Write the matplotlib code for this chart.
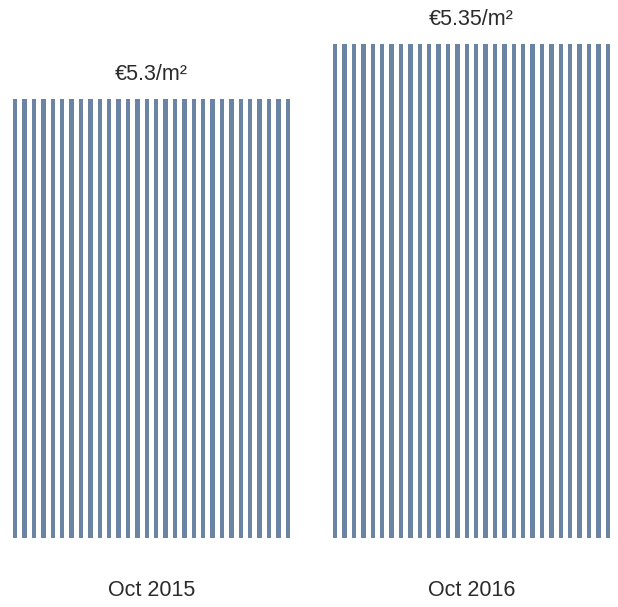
import matplotlib
matplotlib.use("Agg")
import matplotlib.pyplot as plt
import numpy as np

plt.rcParams['font.family'] = ['Liberation Sans', 'DejaVu Sans']

# data
categories = ['Oct 2015', 'Oct 2016']
values = [5.30, 5.35]
value_labels = ['€5.3/m²', '€5.35/m²']
baseline = 4.9

# style
color = '#6c84a3'
text_color = '#2b2b2b'
n_stripes = 30
bar_w = 0.866      # overall width of each striped bar (category spacing = 1)
stripe_w = 0.0142

fig = plt.figure(figsize=(6.18, 6.07), dpi=100)
ax = fig.add_axes([0, 0, 1, 1])

for i, (cat, v, lab) in enumerate(zip(categories, values, value_labels)):
    left = i - bar_w / 2
    xs = left + stripe_w / 2 + np.arange(n_stripes) * (bar_w - stripe_w) / (n_stripes - 1)
    ax.bar(xs, v - baseline, bottom=baseline, width=stripe_w, color=color, linewidth=0)
    ax.annotate(lab, xy=(i, v), xytext=(0, 17.5), textcoords='offset points',
                ha='center', va='center', fontsize=15.5, color=text_color)
    ax.annotate(cat, xy=(i, baseline), xytext=(0, -37.5), textcoords='offset points',
                ha='center', va='center', fontsize=15.5, color=text_color)

ax.set_xlim(-0.4734, 1.4578)
ax.set_ylim(4.8371, 5.3901)
ax.axis('off')

fig.savefig('out.png', dpi=100)
